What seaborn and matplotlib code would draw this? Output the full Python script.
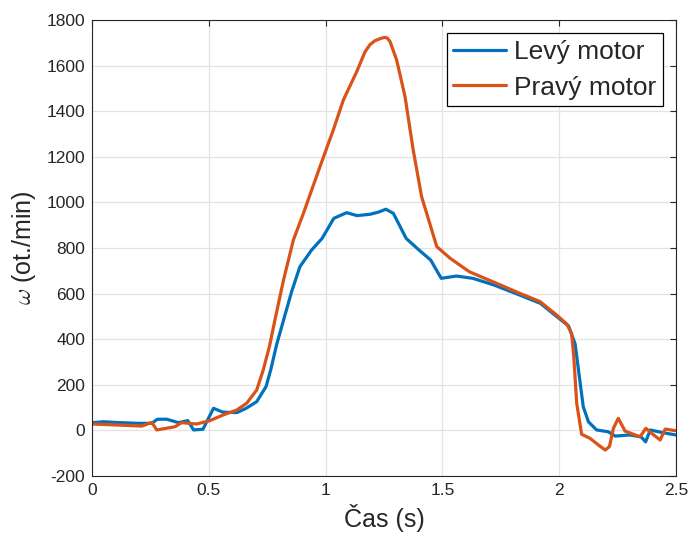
import numpy as np
import pandas as pd
import matplotlib
matplotlib.use("Agg")
import matplotlib.pyplot as plt
import seaborn as sns

# ---- data ----
t_left = [0, 0.05, 0.1, 0.2, 0.255, 0.28, 0.32, 0.37, 0.41, 0.435, 0.475, 0.52, 0.56, 0.62,
          0.66, 0.705, 0.745, 0.765, 0.79, 0.82, 0.855, 0.89, 0.94, 0.985, 1.035, 1.09, 1.135,
          1.19, 1.225, 1.258, 1.29, 1.345, 1.4, 1.45, 1.495, 1.56, 1.63, 1.72, 1.83, 1.92,
          1.99, 2.04, 2.068, 2.103, 2.125, 2.16, 2.21, 2.24, 2.3, 2.35, 2.37, 2.39, 2.425,
          2.46, 2.5]
v_left = [34, 38, 35, 31, 31, 49, 49, 34, 43, 2, 5, 97, 80, 78,
          97, 126, 192, 265, 375, 484, 610, 718, 791, 842, 930, 955, 942,
          948, 957, 970, 952, 842, 791, 747, 667, 677, 667, 638, 594, 557,
          499, 458, 380, 104, 38, 2, -6, -25, -20, -28, -50, 2, -6,
          -13, -20]

t_right = [0, 0.1, 0.213, 0.256, 0.277, 0.355, 0.384, 0.448, 0.505, 0.562, 0.619, 0.662,
           0.705, 0.733, 0.76, 0.783, 0.82, 0.862, 0.905, 0.976, 1.033, 1.076, 1.133, 1.169,
           1.19, 1.211, 1.235, 1.254, 1.265, 1.276, 1.304, 1.34, 1.375, 1.411, 1.476, 1.533,
           1.615, 1.732, 1.832, 1.918, 1.989, 2.032, 2.053, 2.062, 2.075, 2.096, 2.132,
           2.168, 2.197, 2.215, 2.232, 2.253, 2.282, 2.346, 2.371, 2.396, 2.432, 2.454, 2.496]
v_right = [28, 24, 19, 35, 2, 16, 34, 28, 43, 68, 89, 119,
           177, 265, 370, 484, 660, 835, 952, 1157, 1318, 1449, 1573, 1661,
           1692, 1709, 1719, 1724, 1720, 1705, 1625, 1464, 1230, 1025, 806, 755,
           696, 645, 601, 565, 506, 467, 426, 330, 119, -17, -35,
           -64, -86, -71, 9, 53, -3, -28, 9, -13, -42, 6, -1]

series_names = ["Levý motor", "Pravý motor"]
series_colors = ["#0072BD", "#D95319"]
x_ticks = [0, 0.5, 1, 1.5, 2, 2.5]
x_tick_labels = ["0", "0.5", "1", "1.5", "2", "2.5"]
y_ticks = list(range(-200, 1801, 200))
x_label = "Čas (s)"
y_label = r"$\omega$ (ot./min)"

df = pd.concat([
    pd.DataFrame({"t": t_left, "v": v_left, "motor": series_names[0]}),
    pd.DataFrame({"t": t_right, "v": v_right, "motor": series_names[1]}),
], ignore_index=True)

# ---- style ----
sns.set_style("white")
plt.rcParams["font.family"] = ["Liberation Sans", "DejaVu Sans"]
plt.rcParams["mathtext.fontset"] = "cm"
plt.rcParams["axes.unicode_minus"] = False

fig = plt.figure(figsize=(6.88, 5.43), dpi=100)
ax = fig.add_axes([92 / 688, 1 - 476 / 543, (676 - 92) / 688, (476 - 20) / 543])

sns.lineplot(data=df, x="t", y="v", hue="motor", palette=series_colors,
             hue_order=series_names, estimator=None, sort=False,
             linewidth=2.3, ax=ax)

ax.set_xlim(0, 2.5)
ax.set_ylim(-200, 1800)
ax.set_xticks(x_ticks)
ax.set_xticklabels(x_tick_labels)
ax.set_yticks(y_ticks)
ax.grid(True, color="#e3e3e3", linewidth=0.9)
ax.set_axisbelow(True)
ax.tick_params(direction="in", length=4, width=0.8, colors="#262626",
               labelsize=12.5, top=True, right=True, pad=5)
for s in ax.spines.values():
    s.set_visible(True)
    s.set_color("#262626")
    s.set_linewidth(0.8)

ax.set_xlabel(x_label, fontsize=18, color="#262626", labelpad=4)
ax.set_ylabel(y_label, fontsize=18, color="#262626", labelpad=6)

leg = ax.legend(loc="upper right", fontsize=19, frameon=True, fancybox=False,
                edgecolor="black", framealpha=1, handlelength=2.0,
                borderpad=0.25, labelspacing=0.45, handletextpad=0.3,
                borderaxespad=0.5)
leg.get_frame().set_linewidth(0.9)
for line in leg.get_lines():
    line.set_linewidth(2.3)

fig.savefig("out.png", dpi=100)
